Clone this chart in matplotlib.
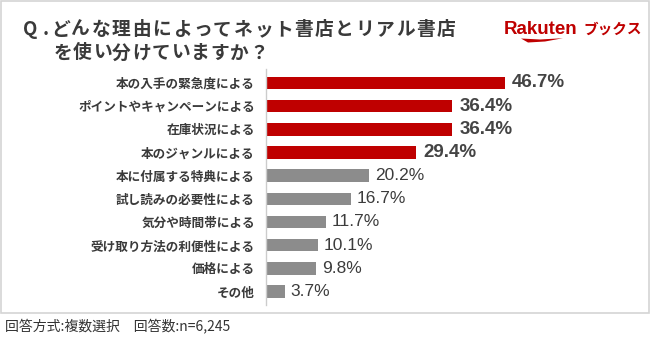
import matplotlib
matplotlib.use("Agg")
import matplotlib.pyplot as plt
from matplotlib.patches import Rectangle, Polygon

plt.rcParams['font.family'] = ['Noto Sans CJK JP', 'DejaVu Sans']

categories = ["本の入手の緊急度による", "ポイントやキャンペーンによる", "在庫状況による",
              "本のジャンルによる", "本に付属する特典による", "試し読みの必要性による",
              "気分や時間帯による", "受け取り方法の利便性による", "価格による", "その他"]
values = [46.7, 36.4, 36.4, 29.4, 20.2, 16.7, 11.7, 10.1, 9.8, 3.7]
highlight = [True, True, True, True, False, False, False, False, False, False]
value_labels = ["46.7%", "36.4%", "36.4%", "29.4%", "20.2%", "16.7%", "11.7%", "10.1%", "9.8%", "3.7%"]

title1 = "Q.どんな理由によってネット書店とリアル書店"
title2 = "を使い分けていますか？"
footer = "回答方式:複数選択　回答数:n=6,245"

W, H = 650, 340
RED = "#bf0000"
GRAY = "#8c8c8c"

fig = plt.figure(figsize=(W / 100, H / 100), dpi=100)
fig.patch.set_facecolor("white")


def fx(x):
    return x / W


def fy(y):
    return 1 - y / H


# frame
fig.add_artist(Rectangle((fx(0.5), fy(312.5)), fx(648.5), (312 / H), transform=fig.transFigure,
                         fill=False, edgecolor="#d4d4d4", linewidth=1.2))

# axes placement
x0, xmax_px = 266, 573
top_px, bot_px = 69, 305.4
ax = fig.add_axes([fx(x0), fy(bot_px), fx(xmax_px - x0), (bot_px - top_px) / H])
ax.set_xlim(0, 60)
ax.set_ylim(9.6, -0.6)

ypos = list(range(len(categories)))
colors = [RED if h else GRAY for h in highlight]
ax.barh(ypos, values, height=0.54, color=colors, edgecolor="none")

ax.set_yticks(ypos)
ax.set_yticklabels(categories, fontsize=9.1, color="#3a3a3a", fontweight="semibold")
ax.tick_params(axis="y", length=0, pad=8)
ax.set_xticks([])
for s in ["top", "right", "bottom"]:
    ax.spines[s].set_visible(False)
ax.spines["left"].set_color("#cccccc")
ax.spines["left"].set_linewidth(1)
ax.patch.set_alpha(0)

for y, v, lab, h in zip(ypos, values, value_labels, highlight):
    if h:
        ax.annotate(lab, (v, y), xytext=(5, 0), textcoords="offset points", va="center", ha="left",
                    fontsize=13.5, fontweight="bold", color="#444444", family="Liberation Sans")
    else:
        ax.annotate(lab, (v, y), xytext=(4, 0), textcoords="offset points", va="center", ha="left",
                    fontsize=12.5, color="#3c3c3c", family="Liberation Sans")


def spaced_text(chars_x, y, text, **kw):
    for cx, ch in zip(chars_x, text):
        fig.text(fx(cx), fy(y), ch, ha="center", va="center", **kw)


tkw = dict(fontsize=13.5, fontweight="bold", color="#3a3a3a")
# title line 1: "Q" and "." then full-width characters at fixed pitch
pitch1 = 20.3
xs1 = [30.5, 45.5] + [50 + pitch1 / 2 + pitch1 * i for i in range(len(title1) - 2)]
spaced_text(xs1, 29.5, title1, **tkw)
pitch2 = 19.6
xs2 = [53 + pitch2 / 2 + pitch2 * i for i in range(len(title2))]
spaced_text(xs2, 53, title2, **tkw)

# logo
fig.text(fx(504), fy(29), "Rakuten", fontsize=13.5, fontweight="bold", color=RED,
         ha="left", va="center", family="Liberation Sans")
fig.text(fx(583), fy(29), "ブックス", fontsize=10.5, fontweight="bold", color=RED,
         ha="left", va="center")
sw = [(521, 38.5), (540, 39.5), (563, 38.2), (545, 41.5), (528, 42.5)]
fig.add_artist(Polygon([(fx(a), fy(b)) for a, b in sw], closed=True, transform=fig.transFigure,
                       facecolor=RED, edgecolor="none"))

# footer
fig.text(fx(5), fy(327), footer, fontsize=10, color="#333333", ha="left", va="center")

fig.savefig("out.png", dpi=100, facecolor="white")
